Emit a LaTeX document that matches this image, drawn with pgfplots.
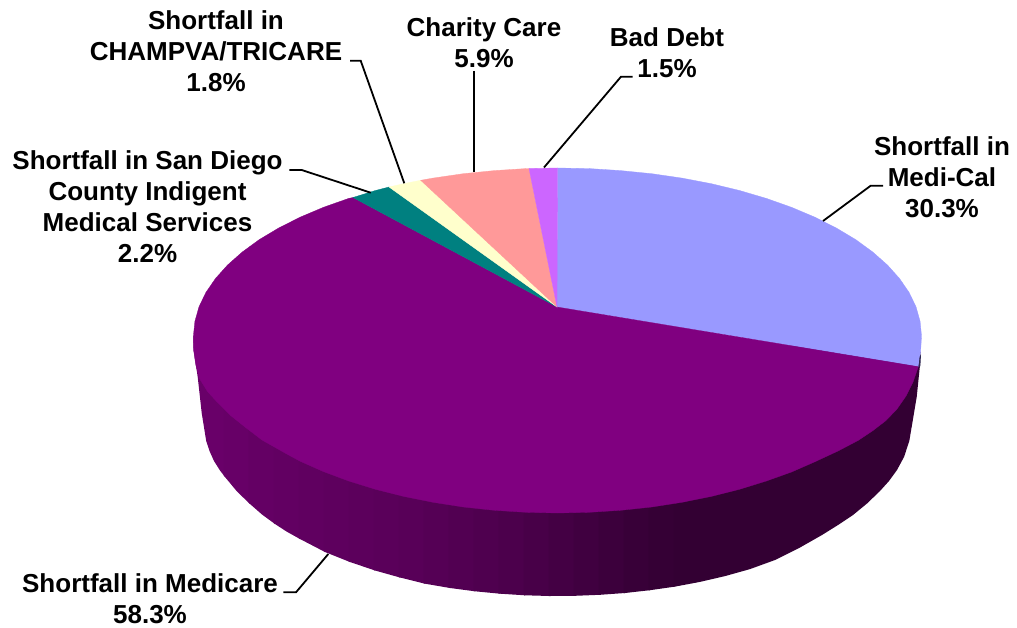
\documentclass[border=0pt]{standalone}
\usepackage{pgfplots}
\pgfplotsset{compat=1.18}
\usepackage{fontspec}
\setmainfont{Liberation Sans}
% One vertical band of the pie's side wall: #1 is the red and blue level
\newcommand{\wallstrip}[2]{\addplot[fill={rgb,255:red,#1;green,0;blue,#1},draw=none] coordinates {#2} --cycle;}
\newcommand{\slice}[2]{\addplot[fill=#1,draw=#1,line width=0.3pt] coordinates {#2} --cycle;}
\newcommand{\leader}[1]{\addplot[black,line width=1.8pt,line join=miter] coordinates {#1};}
\definecolor{medical}{HTML}{9999FF}
\definecolor{medicalwall}{HTML}{2E2A55}
\definecolor{medicare}{HTML}{800080}
\definecolor{sandiego}{HTML}{008080}
\definecolor{champva}{HTML}{FFFFCC}
\definecolor{charity}{HTML}{FF9999}
\definecolor{baddebt}{HTML}{CC66FF}
\tikzset{lbl/.style={font=\fontsize{26}{31}\selectfont\bfseries, align=center, text=black, inner sep=0pt}}
\begin{document}
\begin{tikzpicture}
\begin{axis}[
  scale only axis, width=1017pt, height=628pt,
  xmin=0, xmax=1017, ymin=0, ymax=628, y dir=reverse,
  hide axis, clip=false,
]
% white page the size of the plot area
\fill[white] (axis cs:0,0) rectangle (axis cs:1017,628);
% side wall, banded from left to right
\wallstrip{105}{(193.4,336)(225,340)(225,477)(220,470.5)(214,461)(209.5,451)(206.2,441)(201.7,413)(197.7,377)(193.3,347)}
\wallstrip{103}{(223.5,340)(250,340)(250,504)(237,491.5)(225,477)(223.5,475)}
\wallstrip{100}{(248.5,340)(275,340)(275,524)(262,514.5)(250,504)(248.5,502.4)}
\wallstrip{98}{(273.5,340)(300,340)(300,539)(287,531.8)(275,524)(273.5,522.8)}
\wallstrip{96}{(298.5,340)(325,340)(325,552)(300,539)(298.5,538)}
\wallstrip{94}{(323.5,340)(350,340)(350,562)(325,552)(323.5,551.2)}
\wallstrip{92}{(348.5,340)(375,340)(375,570.5)(350,562)(348.5,561.4)}
\wallstrip{90}{(373.5,340)(400,340)(400,577.5)(375,570.5)(373.5,570)}
\wallstrip{88}{(398.5,340)(425,340)(425,583.7)(400,577.5)(398.5,577)}
\wallstrip{85}{(423.5,340)(450,340)(450,588)(425,583.7)(423.5,583.4)}
\wallstrip{82}{(448.5,340)(475,340)(475,591.3)(450,588)(448.5,587.7)}
\wallstrip{79}{(473.5,340)(500,340)(500,593.7)(475,591.3)(473.5,591.1)}
\wallstrip{76}{(498.5,340)(525,340)(525,595.3)(500,593.7)(498.5,593.6)}
\wallstrip{72}{(523.5,340)(550,340)(550,596)(525,595.3)(523.5,595.2)}
\wallstrip{68}{(548.5,340)(575,340)(575,595.8)(550,596)(548.5,596)}
\wallstrip{64}{(573.5,340)(600,340)(600,594.8)(575,595.8)(573.5,595.8)}
\wallstrip{60}{(598.5,340)(625,340)(625,593)(600,594.8)(598.5,594.9)}
\wallstrip{56}{(623.5,340)(650,340)(650,590.2)(625,593)(623.5,593.1)}
\wallstrip{53}{(648.5,340)(675,340)(675,586.6)(650,590.2)(648.5,590.4)}
\wallstrip{51}{(673.5,340)(920.5,352)(920,365)(916.7,397)(909.3,441)(904,457)(897,470)(889,481)(880,491)(867,503.5)(853,515)(838,525)(822,535)(800,547.5)(775,560)(750,569.1)(725,576.1)(700,581.9)(675,586.6)(673.5,586.8)}
% top face of the pie, from the rim read slice by slice
\slice{medical}{(557,307)(557.5,168)(589.2,168.6)(620.7,170.6)(651.7,173.7)(682,178.1)(711.3,183.7)(739.5,190.5)(766.3,198.4)(791.5,207.3)(814.9,217.2)(836.3,228)(855.7,239.6)(872.7,252)(887.4,265)(899.5,278.5)(909.1,292.5)(916,306.8)(920.1,321.4)(921.5,336)(920.6,351.4)(918.3,366.7)}
\slice{medicare}{(557,307)(353,197.5)(348.7,198.4)(323.5,207.3)(300.1,217.2)(278.7,228)(259.3,239.6)(242.3,252)(227.6,265)(215.5,278.5)(205.9,292.5)(199,306.8)(194.9,321.4)(193.4,336)(193.6,350)(195.8,365)(199.5,378.5)(207.5,391.5)(218,403)(230,415)(245,427)(262,440)(285,453)(300.1,461.2)(323.5,471.6)(348.7,481)(375.5,489.3)(403.7,496.4)(433,502.3)(463.3,507)(494.3,510.3)(525.8,512.3)(557.5,513)(589.2,512.3)(620.7,510.3)(651.7,507)(682,502.3)(711.3,496.4)(739.5,489.3)(766.3,481)(791.5,472)(815,461.7)(838,451)(858,440.5)(873,430.5)(886,420.5)(897,409)(906,396)(913,382)(918.3,366.7)}
\slice{sandiego}{(557,307)(389,187)(375.5,190.5)(353,197.5)}
\slice{champva}{(557,307)(420.7,180.3)(403.7,183.7)(389,187)}
\slice{charity}{(557,307)(529,168.5)(525.8,168.6)(494.3,170.6)(463.3,173.7)(433,178.1)(420.7,180.3)}
\slice{baddebt}{(557,307)(557.5,168)(529,168.5)}
% sliver of the Medi-Cal wall at the right-hand corner
\addplot[fill=medicalwall,draw=none] coordinates {(921,354)(920.3,366)(918.5,368)(919.6,357)} --cycle;
% leader lines
\leader{(883,185.7)(870.7,185.7)(823,221)}
\leader{(283.3,592.3)(296,592.3)(328.3,554)}
\leader{(289.3,170)(301.7,170)(370.7,192.7)}
\leader{(350,60.7)(360.7,60.7)(404.3,183.3)}
\leader{(474,71)(474,172)}
\leader{(632.7,76.7)(621,76.7)(544,167.5)}
% labels
\node[lbl] at (axis cs:942,177) {Shortfall in\\Medi-Cal\\30.3\%};
\node[lbl] at (axis cs:150,598.5) {Shortfall in Medicare\\58.3\%};
\node[lbl] at (axis cs:147.5,207) {Shortfall in San Diego\\County Indigent\\Medical Services\\2.2\%};
\node[lbl] at (axis cs:216,51.5) {Shortfall in\\CHAMPVA/TRICARE\\1.8\%};
\node[lbl] at (axis cs:484,43) {Charity Care\\5.9\%};
\node[lbl] at (axis cs:667,53) {Bad Debt\\1.5\%};
\end{axis}
\end{tikzpicture}
\end{document}
